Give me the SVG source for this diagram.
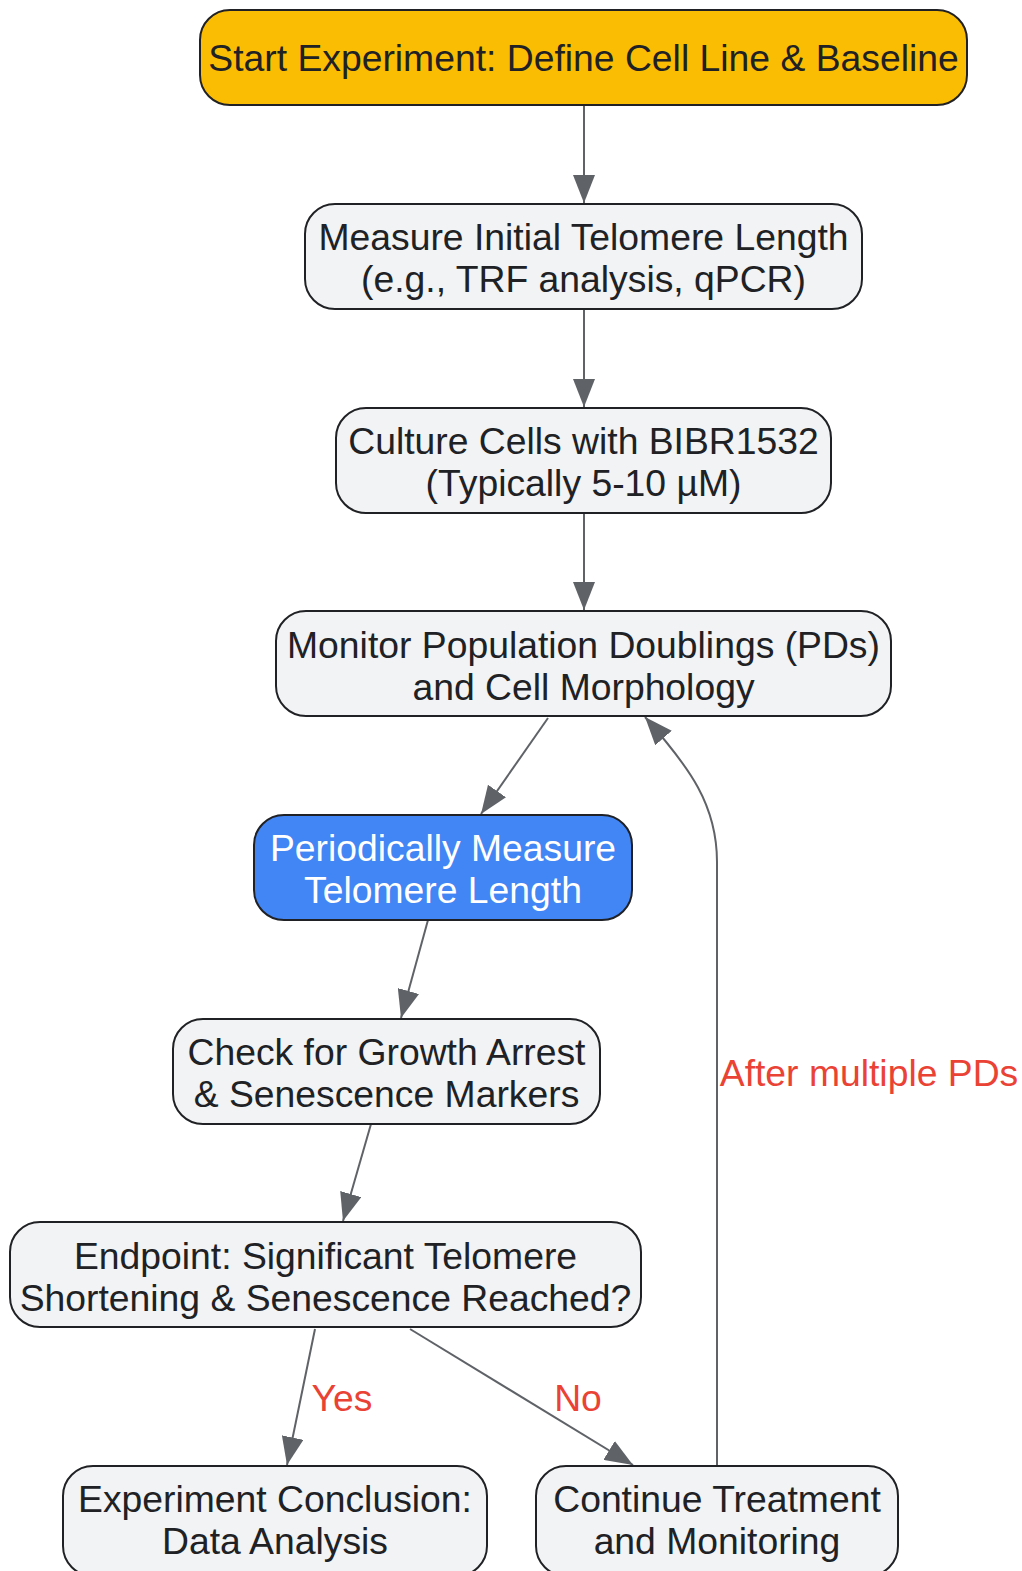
<svg xmlns="http://www.w3.org/2000/svg" width="1022" height="1571" viewBox="0 0 1022 1571">
<defs>
<style>
.n rect{fill:#f1f3f4;stroke:#202124;stroke-width:2}
.n text,.lbl{font-family:"Liberation Sans",Arial,sans-serif;font-size:37.3px;text-anchor:middle;dominant-baseline:central}
.n text{fill:#202124}
.start rect{fill:#fbbc04}
.blue rect{fill:#4285f4}
.blue text{fill:#ffffff}
.e{fill:none;stroke:#5f6368;stroke-width:2}
.lbl{fill:#ea4335}
</style>
<marker id="ah" viewBox="0 0 28 22" refX="28" refY="11" markerWidth="28" markerHeight="22" markerUnits="userSpaceOnUse" orient="auto">
<path d="M0,0 L28,11 L0,22 Z" fill="#5f6368"/>
</marker>
</defs>
<rect width="1022" height="1571" fill="#ffffff"/>
<g id="connectors">
<path class="e" marker-end="url(#ah)" d="M584,105 L584,203"/>
<path class="e" marker-end="url(#ah)" d="M584,309 L584,407"/>
<path class="e" marker-end="url(#ah)" d="M584,513 L584,610"/>
<path class="e" marker-end="url(#ah)" d="M548,718 L481,814"/>
<path class="e" marker-end="url(#ah)" d="M428,920 L401,1018"/>
<path class="e" marker-end="url(#ah)" d="M371,1124 L343,1221"/>
<path class="e" marker-end="url(#ah)" d="M315,1329 L287,1465"/>
<path class="e" marker-end="url(#ah)" d="M410,1329 L633,1465"/>
<path class="e" marker-end="url(#ah)" d="M717,1466 L717,862 C717,805 690,768 645,717"/>
<text class="lbl" x="342" y="1398">Yes</text>
<text class="lbl" x="578" y="1398">No</text>
<text class="lbl" x="869" y="1073">After multiple PDs</text>
</g>
<g id="start" class="n start">
<rect x="200" y="10" width="767" height="95" rx="30" ry="30"/>
<text x="583.5" y="58">Start Experiment: Define Cell Line &amp; Baseline</text>
</g>
<g id="measure-initial" class="n">
<rect x="305" y="204" width="557" height="105" rx="30" ry="30"/>
<text x="583.5" y="237">Measure Initial Telomere Length</text>
<text x="583.5" y="279">(e.g., TRF analysis, qPCR)</text>
</g>
<g id="culture" class="n">
<rect x="336" y="408" width="495" height="105" rx="30" ry="30"/>
<text x="583.5" y="441">Culture Cells with BIBR1532</text>
<text x="583.5" y="483">(Typically 5-10 µM)</text>
</g>
<g id="monitor" class="n">
<rect x="276" y="611" width="615" height="105" rx="30" ry="30"/>
<text x="583.5" y="645">Monitor Population Doublings (PDs)</text>
<text x="583.5" y="687">and Cell Morphology</text>
</g>
<g id="periodic" class="n blue">
<rect x="254" y="815" width="378" height="105" rx="30" ry="30"/>
<text x="443" y="848">Periodically Measure</text>
<text x="443" y="890">Telomere Length</text>
</g>
<g id="check" class="n">
<rect x="173" y="1019" width="427" height="105" rx="30" ry="30"/>
<text x="386.5" y="1052">Check for Growth Arrest</text>
<text x="386.5" y="1094">&amp; Senescence Markers</text>
</g>
<g id="endpoint" class="n">
<rect x="10" y="1222" width="631" height="105" rx="30" ry="30"/>
<text x="325.5" y="1256">Endpoint: Significant Telomere</text>
<text x="325.5" y="1298">Shortening &amp; Senescence Reached?</text>
</g>
<g id="conclusion" class="n">
<rect x="63" y="1466" width="424" height="110" rx="30" ry="30"/>
<text x="275" y="1499">Experiment Conclusion:</text>
<text x="275" y="1541">Data Analysis</text>
</g>
<g id="continue" class="n">
<rect x="536" y="1466" width="362" height="110" rx="30" ry="30"/>
<text x="717" y="1499">Continue Treatment</text>
<text x="717" y="1541">and Monitoring</text>
</g>
</svg>
